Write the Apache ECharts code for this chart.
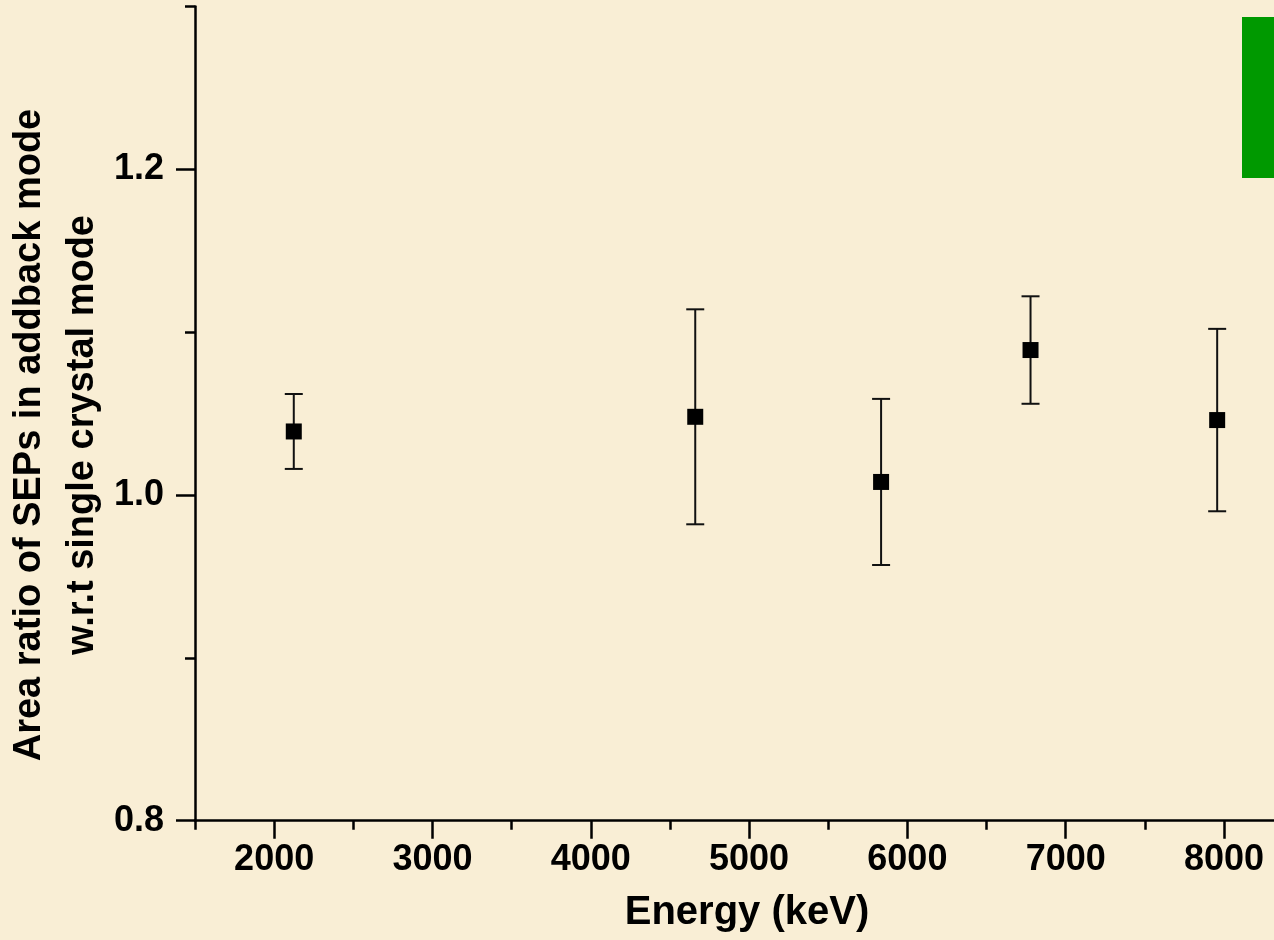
<!DOCTYPE html>
<html>
<head>
<meta charset="utf-8">
<script src="https://cdn.jsdelivr.net/npm/echarts@6/dist/echarts.min.js"></script>
<style>
html,body{margin:0;padding:0;background:#f9eed5;}
#chart{width:1274px;height:940px;}
</style>
</head>
<body>
<div id="chart"></div>
<script>
// Data
const energies = [2124, 4660, 5834, 6778, 7957];
const ratios   = [1.039, 1.048, 1.008, 1.089, 1.046];
const errLow   = [1.016, 0.982, 0.957, 1.056, 0.990];
const errHigh  = [1.062, 1.114, 1.059, 1.122, 1.102];

// Tick values
const xMajorTicks = [2000, 3000, 4000, 5000, 6000, 7000, 8000];
const xMinorTicks = [1500, 2500, 3500, 4500, 5500, 6500, 7500];
const yMajorTicks = [0.8, 1.0, 1.2];
const yMinorTicks = [0.9, 1.1, 1.3];

const xTitle = 'Energy (keV)';
const yTitle = 'Area ratio of SEPs in addback mode\nw.r.t single crystal mode';

const FONT = '"Liberation Sans", Arial, Helvetica, sans-serif';
const chart = echarts.init(document.getElementById('chart'), null, {renderer: 'canvas'});

const scatterData = energies.map((e, i) => [e, ratios[i]]);
const errData = energies.map((e, i) => [e, errLow[i], errHigh[i]]);

const axisLineStyle = {color: '#000', width: 2.5};
const X_MIN = 1500, X_MAX = 8316;

const option = {
  backgroundColor: '#f9eed5',
  animation: false,
  grid: {left: 195, right: 0, top: 6.4, bottom: 119.3, containLabel: false},
  xAxis: [
    {
      type: 'value', min: X_MIN, max: X_MAX,
      axisLine: {show: true, onZero: false, lineStyle: axisLineStyle},
      axisTick: {show: true, length: 18, lineStyle: {color: '#000', width: 2.5}, customValues: xMajorTicks},
      axisLabel: {show: true, margin: 21, fontFamily: FONT, fontWeight: 'bold', fontSize: 36, color: '#000',
                  customValues: xMajorTicks, formatter: v => String(v)},
      splitLine: {show: false}
    },
    {
      type: 'value', min: X_MIN, max: X_MAX, position: 'bottom',
      axisLine: {show: false},
      axisTick: {show: true, length: 9, lineStyle: {color: '#000', width: 2.5}, customValues: xMinorTicks},
      axisLabel: {show: false},
      splitLine: {show: false}
    }
  ],
  yAxis: [
    {
      type: 'value', min: 0.8, max: 1.3,
      axisLine: {show: true, onZero: false, lineStyle: axisLineStyle},
      axisTick: {show: true, length: 19, lineStyle: {color: '#000', width: 2.5}, customValues: yMajorTicks},
      axisLabel: {show: true, margin: 31, fontFamily: FONT, fontWeight: 'bold', fontSize: 36, color: '#000',
                  customValues: yMajorTicks, formatter: v => Number(v).toFixed(1)},
      splitLine: {show: false}
    },
    {
      type: 'value', min: 0.8, max: 1.3, position: 'left',
      axisLine: {show: false},
      axisTick: {show: true, length: 10, lineStyle: {color: '#000', width: 2.5}, customValues: yMinorTicks},
      axisLabel: {show: false},
      splitLine: {show: false}
    }
  ],
  graphic: [
    {
      type: 'text', x: 56, y: 435, rotation: Math.PI / 2,
      style: {text: yTitle, font: 'bold 38px ' + FONT, fill: '#000', align: 'center', verticalAlign: 'middle', lineHeight: 53}
    },
    {
      type: 'text', x: 747, y: 913,
      style: {text: xTitle, font: 'bold 40px ' + FONT, fill: '#000', align: 'center', verticalAlign: 'middle'}
    },
    {
      type: 'rect', shape: {x: 1242, y: 17, width: 40, height: 161}, style: {fill: '#009900'}
    }
  ],
  series: [
    {
      type: 'custom', xAxisIndex: 0, yAxisIndex: 0,
      data: errData,
      encode: {x: 0, y: [1, 2]},
      renderItem: function (params, api) {
        const x = api.value(0);
        const lo = api.coord([x, api.value(1)]);
        const hi = api.coord([x, api.value(2)]);
        const hw = 9;
        const style = {stroke: '#111', lineWidth: 2};
        return {
          type: 'group',
          children: [
            {type: 'line', shape: {x1: lo[0], y1: lo[1], x2: hi[0], y2: hi[1]}, style: style},
            {type: 'line', shape: {x1: lo[0] - hw, y1: lo[1], x2: lo[0] + hw, y2: lo[1]}, style: style},
            {type: 'line', shape: {x1: hi[0] - hw, y1: hi[1], x2: hi[0] + hw, y2: hi[1]}, style: style}
          ]
        };
      },
      z: 2
    },
    {
      type: 'scatter', xAxisIndex: 0, yAxisIndex: 0,
      data: scatterData,
      symbol: 'rect', symbolSize: 16,
      itemStyle: {color: '#000', opacity: 1},
      z: 3
    }
  ]
};
chart.setOption(option);
</script>
</body>
</html>
